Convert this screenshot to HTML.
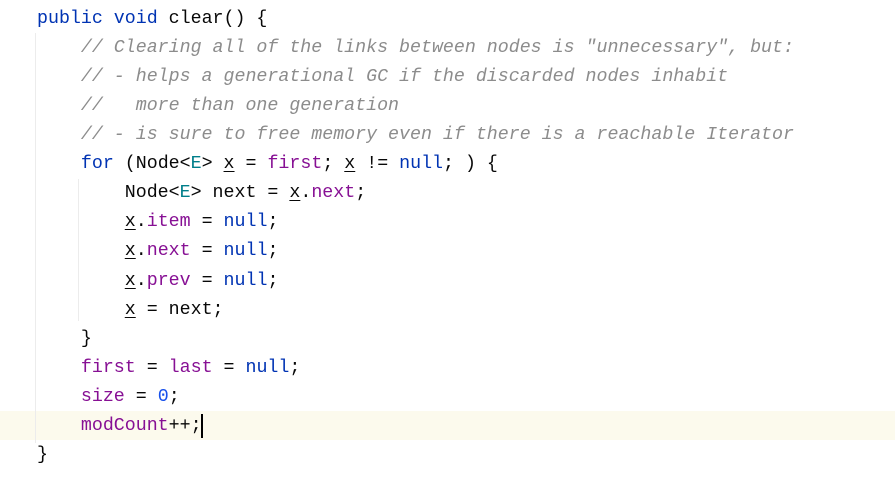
<!DOCTYPE html>
<html><head><meta charset="utf-8"><style>
body{margin:0;width:895px;height:490px;background:#fff;overflow:hidden;position:relative;font-family:"Liberation Mono",monospace;font-size:18.3px;color:#080808}
.l{position:absolute;left:37px;height:29px;line-height:29px;white-space:pre}
.k{color:#0033b3}.f{color:#871094}.t{color:#007e8a}.c{color:#8c8c8c;font-style:italic}.n{color:#1750eb}
u{text-decoration:underline;text-underline-offset:3px}
.g{position:absolute;width:1px;background:#ececec}
</style></head><body>
<div style="position:absolute;left:0;top:411px;width:895px;height:29px;background:#fcfaed"></div>
<div class="g" style="left:35px;top:33px;height:410px"></div>
<div class="g" style="left:78px;top:179px;height:142px"></div>
<div style="position:absolute;left:201px;top:414px;width:2px;height:24px;background:#000"></div>
<div class="l" style="top:5px"><span class="k">public void</span> clear() {</div>
<div class="l" style="top:34px"><span class="c">    // Clearing all of the links between nodes is "unnecessary", but:</span></div>
<div class="l" style="top:63px"><span class="c">    // - helps a generational GC if the discarded nodes inhabit</span></div>
<div class="l" style="top:92px"><span class="c">    //   more than one generation</span></div>
<div class="l" style="top:121px"><span class="c">    // - is sure to free memory even if there is a reachable Iterator</span></div>
<div class="l" style="top:150px">    <span class="k">for</span> (Node&lt;<span class="t">E</span>&gt; <u>x</u> = <span class="f">first</span>; <u>x</u> != <span class="k">null</span>; ) {</div>
<div class="l" style="top:179px">        Node&lt;<span class="t">E</span>&gt; next = <u>x</u>.<span class="f">next</span>;</div>
<div class="l" style="top:208px">        <u>x</u>.<span class="f">item</span> = <span class="k">null</span>;</div>
<div class="l" style="top:237px">        <u>x</u>.<span class="f">next</span> = <span class="k">null</span>;</div>
<div class="l" style="top:267px">        <u>x</u>.<span class="f">prev</span> = <span class="k">null</span>;</div>
<div class="l" style="top:296px">        <u>x</u> = next;</div>
<div class="l" style="top:325px">    }</div>
<div class="l" style="top:354px">    <span class="f">first</span> = <span class="f">last</span> = <span class="k">null</span>;</div>
<div class="l" style="top:383px">    <span class="f">size</span> = <span class="n">0</span>;</div>
<div class="l" style="top:412px">    <span class="f">modCount</span>++;</div>
<div class="l" style="top:441px">}</div>
</body></html>
